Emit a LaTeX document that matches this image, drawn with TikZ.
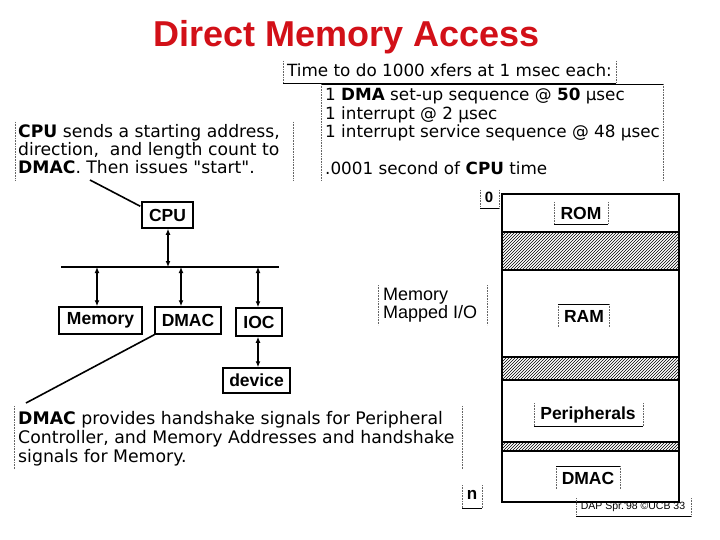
\documentclass[tikz,border=0pt]{standalone}
\usepackage{fontspec}
\setmainfont{DejaVu Sans}[Ligatures=TeXOff]
\newfontfamily\lib{Liberation Sans}[Ligatures=TeXOff]
\usetikzlibrary{patterns,calc,arrows.meta}
\definecolor{titlered}{RGB}{210,16,24}
\begin{document}
\begin{tikzpicture}[x=1pt,y=-1pt,
 txt/.style={anchor=base west,inner sep=0pt,font=\fontsize{16.8}{18}\selectfont},
 lbl/.style={draw,line width=1.5pt,inner sep=0pt,font=\lib\bfseries\fontsize{17.5}{18}\selectfont},
 maplbl/.style={inner sep=0pt,font=\lib\bfseries\fontsize{17.5}{18}\selectfont},
 dotf/.style={densely dotted,line width=0.6pt,black!60},
 solf/.style={line width=0.8pt},
 conn/.style={line width=1.6pt},
 arr/.style={line width=1.4pt,{Latex[length=6pt,width=5pt]}-{Latex[length=6pt,width=5pt]}},
 region/.style={draw,line width=1.6pt,fill=white},
 hatch/.style={draw,line width=1.6pt,pattern=north east lines}]

\useasboundingbox[fill=white] (0,0) rectangle (720,540);

% title
\node[anchor=base,inner sep=0pt,text=titlered,font=\lib\bfseries\fontsize{36}{40}\selectfont] (title) at (346.5,47) {Direct Memory Access};

% time box
\draw[dotf] (283,61) -- (283,83) (616,61) -- (616,83);
\draw[solf] (283,83) -- (616,83);
\node[txt] (time) at (287,77) {Time to do 1000 xfers at 1 msec each:};

% block of times
\draw[solf] (321,84) -- (663,84);
\draw[dotf] (321,84) -- (321,181) (663,84) -- (663,181);
\node[txt] (b1) at (325,101) {1 \textbf{DMA} set-up sequence @ \textbf{50} µsec};
\node[txt] (b2) at (325,119.5) {1 interrupt @ 2 µsec};
\node[txt] (b3) at (325,138) {1 interrupt service sequence @ 48 µsec};
\node[txt] (b5) at (325,175) {.0001 second of \textbf{CPU} time};

% left text
\draw[dotf] (15,122) -- (15,181) (293,122) -- (293,181);
\node[txt,font=\fontsize{17.2}{18}\selectfont] (l1) at (18,138) {\textbf{CPU} sends a starting address,};
\node[txt,font=\fontsize{17.2}{18}\selectfont] (l2) at (18,156) {direction,\ \ and length count to};
\node[txt,font=\fontsize{17.2}{18}\selectfont] (l3) at (18,174) {\textbf{DMAC}. Then issues "start".};

% bus diagram
\node[lbl,minimum width=51pt,minimum height=26pt] (cpu) at (167.5,215) {CPU};
\node[lbl,minimum width=83pt,minimum height=27pt] (mem) at (100.5,320.5) {Memory};
\node[lbl,minimum width=66pt,minimum height=27pt] (dmac) at (188,320.5) {DMAC};
\node[lbl,minimum width=46pt,minimum height=28pt] (ioc) at (259,322) {IOC};
\node[lbl,minimum width=67pt,minimum height=25pt] (dev) at (256.5,380.5) {device};

\coordinate (busL) at (61,267);
\coordinate (busR) at (279,267);
\coordinate (b0) at (168,267);
\coordinate (bm) at (97,267);
\coordinate (bd) at (181,267);
\coordinate (bi) at (258,267);
\draw[conn] (busL) -- (busR);
\draw[arr] (cpu.south -| b0) -- (b0);
\draw[arr] (bm) -- (bm |- mem.north);
\draw[arr] (bd) -- (bd |- dmac.north);
\draw[arr] (bi) -- (bi |- ioc.north);
\draw[arr] (ioc.south -| bi) -- (dev.north -| bi);

\coordinate (cpuend) at (90,180);
\draw[conn] (cpuend) -- ($(cpu.north west)+(-1,5)$);
\coordinate (dmacend) at (26,403);
\draw[conn] (dmac.south west) -- (dmacend);

% bottom text
\draw[dotf] (14,406) -- (14,469) (462,406) -- (462,469);
\node[txt,font=\fontsize{17.3}{18}\selectfont] (d1) at (18,424) {\textbf{DMAC} provides handshake signals for Peripheral};
\node[txt,font=\fontsize{17.3}{18}\selectfont] (d2) at (18,443) {Controller, and Memory Addresses and handshake};
\node[txt,font=\fontsize{17.3}{18}\selectfont] (d3) at (18,462) {signals for Memory.};

% memory mapped I/O
\draw[dotf] (378,285) -- (378,325) (487,285) -- (487,325);
\node[anchor=base west,inner sep=0pt,font=\lib\fontsize{18}{18}\selectfont] (mm1) at (383,300) {Memory};
\node[anchor=base west,inner sep=0pt,font=\lib\fontsize{18}{18}\selectfont] (mm2) at (383,318) {Mapped I/O};

% memory map
\draw[region] (502,194) rectangle (679,232);
\draw[hatch] (502,232) rectangle (679,270);
\draw[region] (502,270) rectangle (679,357);
\draw[hatch] (502,357) rectangle (679,380);
\draw[region] (502,380) rectangle (679,442);
\draw[hatch] (502,442) rectangle (679,451);
\draw[region] (502,451) rectangle (679,502);

\node[maplbl] (rom) at (581,213) {ROM};
\draw[dotf] (554,202) -- (554,224) (608,202) -- (608,224);
\draw[solf] (554,224) -- (608,224);

\node[maplbl] (ram) at (584,316) {RAM};
\draw[dotf] (558,304) -- (558,327) (609,304) -- (609,327);
\draw[solf] (558,304) -- (609,304);

\node[maplbl] (peri) at (588,415) {Peripherals};
\draw[dotf] (534,403) -- (534,426) (643,403) -- (643,426);
\draw[solf] (534,426) -- (643,426);

\node[maplbl] (mdmac) at (588,478) {DMAC};
\draw[dotf] (556,466) -- (556,489) (620,466) -- (620,489);
\draw[solf] (556,466) -- (620,466);

\node[maplbl,font=\lib\bfseries\fontsize{15}{16}\selectfont] (zero) at (489,197) {0};
\draw[dotf] (480,190) -- (480,208) (499,190) -- (499,208);
\draw[solf] (480,208) -- (499,208);

\node[maplbl,font=\lib\bfseries\fontsize{17}{18}\selectfont] (nn) at (472,495) {n};
\draw[dotf] (462,485) -- (462,508) (482,485) -- (482,508);
\draw[solf] (462,508) -- (482,508);

\node[inner sep=0pt,font=\lib\fontsize{10.5}{11}\selectfont] (foot) at (633,507) {DAP Spr.'98 ©UCB 33};
\draw[dotf] (576,498) -- (576,516) (691,498) -- (691,516);
\draw[solf] (576,516) -- (691,516);
\end{tikzpicture}
\end{document}
